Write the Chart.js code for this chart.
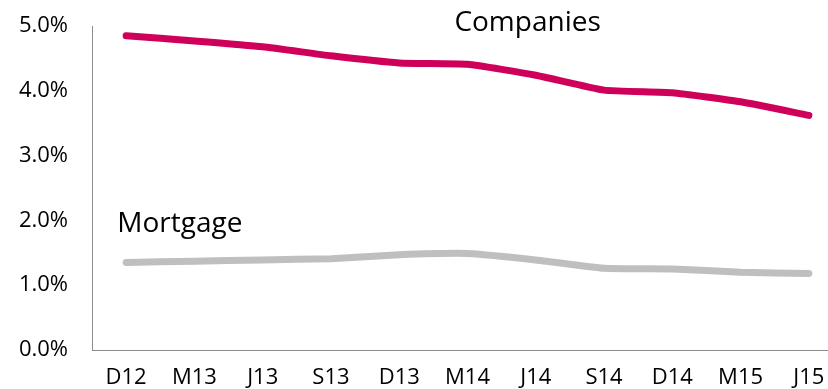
<!DOCTYPE html>
<html>
<head>
<meta charset="utf-8">
<script src="https://cdn.jsdelivr.net/npm/chart.js@4"></script>
<style>
  html, body { margin: 0; padding: 0; background: #fff; overflow: hidden; }
  #wrap { width: 843px; height: 389px; }
</style>
</head>
<body>
<div id="wrap"><canvas id="Grafico_Tasas" width="843" height="389"></canvas></div>
<script>
const periodos = ['D12', 'M13', 'J13', 'S13', 'D13', 'M14', 'J14', 'S14', 'D14', 'M15', 'J15'];
const companies = [4.85, 4.77, 4.68, 4.54, 4.43, 4.41, 4.24, 4.01, 3.97, 3.83, 3.62];
const mortgage = [1.35, 1.37, 1.39, 1.41, 1.47, 1.49, 1.39, 1.26, 1.25, 1.20, 1.18];
const yTicks = [0, 1, 2, 3, 4, 5];

// etiquetas dentro del gráfico: [texto, posición en x (índice), valor en y, alineación]
const etiquetas = [
  ['Companies', 5.88, 4.92, 'center'],
  ['Mortgage', -0.13, 1.82, 'left']
];

const fuente = '"Open Sans", "Noto Sans", sans-serif';

const pluginEtiquetas = {
  id: 'etiquetas',
  afterDatasetsDraw(chart) {
    const ctx = chart.ctx;
    const x = chart.scales.x, y = chart.scales.y;
    ctx.save();
    ctx.font = '28px ' + fuente;
    ctx.fillStyle = '#000';
    ctx.textBaseline = 'alphabetic';
    etiquetas.forEach(e => {
      ctx.textAlign = e[3];
      ctx.fillText(e[0], x.getPixelForValue(e[1]), y.getPixelForValue(e[2]));
    });
    ctx.restore();
  }
};

document.addEventListener("DOMContentLoaded", () => {
  const lienzo = document.getElementById("Grafico_Tasas");
  new Chart(lienzo.getContext('2d'), {
    type: 'line',
    data: {
      labels: periodos,
      datasets: [
        {
          label: 'Companies',
          data: companies,
          borderColor: '#CF0059',
          borderWidth: 7,
          borderCapStyle: 'round',
          borderJoinStyle: 'round',
          pointRadius: 0,
          tension: 0.15
        },
        {
          label: 'Mortgage',
          data: mortgage,
          borderColor: '#BFBFBF',
          borderWidth: 7,
          borderCapStyle: 'round',
          borderJoinStyle: 'round',
          pointRadius: 0,
          tension: 0.15
        }
      ]
    },
    options: {
      responsive: false,
      animation: false,
      layout: { padding: { top: 26, left: 0, right: 0, bottom: 0 } },
      plugins: {
        legend: { display: false },
        tooltip: { enabled: false }
      },
      scales: {
        x: {
          offset: true,
          grid: { display: false, drawTicks: false },
          border: { display: true, color: '#8C8C8C', width: 1 },
          ticks: {
            color: '#000',
            font: { family: fuente, size: 22 },
            padding: 15,
            maxRotation: 0,
            autoSkip: false
          },
          afterFit(scale) { scale.height = 39; }
        },
        y: {
          min: 0,
          max: 5,
          afterBuildTicks(scale) { scale.ticks = yTicks.map(v => ({ value: v })); },
          grid: { display: false, drawTicks: true, tickLength: 24, tickColor: 'rgba(0,0,0,0)' },
          border: { display: true, color: '#8C8C8C', width: 1 },
          ticks: {
            color: '#000',
            font: { family: fuente, size: 22 },
            padding: 0,
            callback: v => v.toFixed(1) + '%'
          },
          afterFit(scale) { scale.width = 92; }
        }
      }
    },
    plugins: [pluginEtiquetas]
  });
});
</script>
</body>
</html>
